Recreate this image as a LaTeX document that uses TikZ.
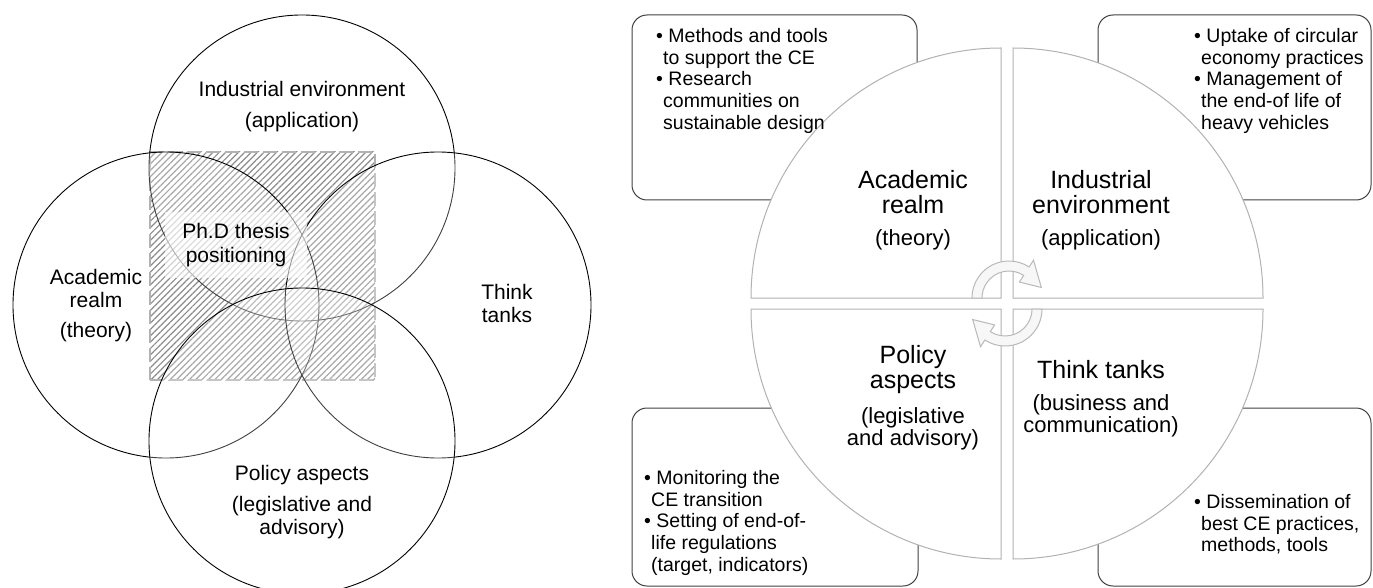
\documentclass[tikz,border=0pt]{standalone}
\usepackage{fontspec}
\setmainfont{Liberation Sans}
\usetikzlibrary{patterns.meta}
\newcommand{\gap}{\hspace*{7pt}}

\begin{document}
\begin{tikzpicture}[x=1pt, y=-1pt,
    ring/.style = {draw, circle, minimum size=306pt, line width=0.9pt, fill=white, fill opacity=0.25},
    zone/.style = {minimum width=225pt, minimum height=228pt, draw=gray!80, line width=2.5pt, dash pattern=on 14pt off 5pt, pattern={Lines[angle=45, distance=4.5pt, line width=1.2pt]}, pattern color=black!60},
    tag/.style = {minimum width=142pt, minimum height=65pt, fill=white, fill opacity=0.6, text opacity=1, align=center, font=\fontsize{21}{24}\selectfont},
    vlabel/.style = {align=center, font=\fontsize{21}{23}\selectfont},
    box/.style = {draw=black!75, rounded corners=15pt, line width=1pt},
    quarter/.style = {draw=gray!60, fill=white, line width=1pt},
    title/.style = {align=center, font=\fontsize{25}{25}\selectfont},
    sub/.style = {align=center, font=\fontsize{22}{22}\selectfont},
    items/.style = {anchor=north west, align=left, inner sep=0pt, font=\fontsize{19.5}{21.75}\selectfont},
    turn/.style = {draw=gray!55, fill=gray!6, line width=1pt}]
        \useasboundingbox (0,0) rectangle (1373,588);

        % left: the four realms
        \node[zone] (Z) at (262.5,266) {};
        \node[ring] (I) at (302,168) {};
        \node[ring] (A) at (166,305) {};
        \node[ring] (T) at (438,305) {};
        \node[ring] (P) at (302,441) {};
        \node[tag] (phd) at (236,245) {Ph.D thesis\\positioning};

        \node[vlabel] (ind) at (302,89) {Industrial environment};
        \node[vlabel] (indsub) at (302,122) {(application)};
        \node[vlabel] (acad) at (96,288.5) {Academic\\realm};
        \node[vlabel] (acadsub) at (96,332) {(theory)};
        \node[vlabel] (think) at (507,303.5) {Think\\tanks};
        \node[vlabel] (pol) at (302,475) {Policy aspects};
        \node[vlabel] (polsub) at (302,517.5) {(legislative and\\advisory)};

        % right: the wheel
        \draw[box] (632,15) rectangle (917,200);
        \draw[box] (1098,15) rectangle (1371,200);
        \draw[box] (632,408) rectangle (918,586);
        \draw[box] (1098,408) rectangle (1371,586);

        \draw[quarter] (1001,298) -- (751,298) arc[start angle=180, end angle=270, radius=250] -- cycle;
        \draw[quarter] (1013,298) -- (1013,48) arc[start angle=270, end angle=360, radius=250] -- cycle;
        \draw[quarter] (1001,309) -- (751,309) arc[start angle=180, end angle=90, radius=250] -- cycle;
        \draw[quarter] (1013,309) -- (1263,309) arc[start angle=0, end angle=90, radius=250] -- cycle;

        \begin{scope}[shift={(1009,298)}]
            \draw[turn] (180:37) arc[start angle=180, end angle=303, radius=37] -- (303:45) -- (342:34) -- (303:19) -- (303:27) arc[start angle=303, end angle=180, radius=27] -- cycle;
        \end{scope}
        \begin{scope}[shift={(1005,309)}]
            \draw[turn] (0:37) arc[start angle=0, end angle=123, radius=37] -- (123:45) -- (162:34) -- (123:19) -- (123:27) arc[start angle=123, end angle=0, radius=27] -- cycle;
        \end{scope}

        \node[title] (acq) at (913,192.5) {Academic\\realm};
        \node[sub] (acqsub) at (913,240) {(theory)};
        \node[title] (inq) at (1101,192.5) {Industrial\\environment};
        \node[sub] (inqsub) at (1101,240) {(application)};
        \node[title] (poq) at (913,369.5) {Policy\\aspects};
        \node[sub] (poqsub) at (913,429) {(legislative\\and advisory)};
        \node[title] (thq) at (1101,370) {Think tanks};
        \node[sub] (thqsub) at (1101,416) {(business and\\communication)};

        \node[items] (acbox) at (656,28) {\textbullet\ Methods and tools\\\gap to support the CE\\\textbullet\ Research\\\gap communities on\\\gap sustainable design};
        \node[items] (inbox) at (1194,28) {\textbullet\ Uptake of circular\\\gap economy practices\\\textbullet\ Management of\\\gap the end-of life of\\\gap heavy vehicles};
        \node[items] (pobox) at (644,470) {\textbullet\ Monitoring the\\\gap CE transition\\\textbullet\ Setting of end-of-\\\gap life regulations\\\gap (target, indicators)};
        \node[items] (thbox) at (1194,494) {\textbullet\ Dissemination of\\\gap best CE practices,\\\gap methods, tools};
    \end{tikzpicture}
\end{document}
